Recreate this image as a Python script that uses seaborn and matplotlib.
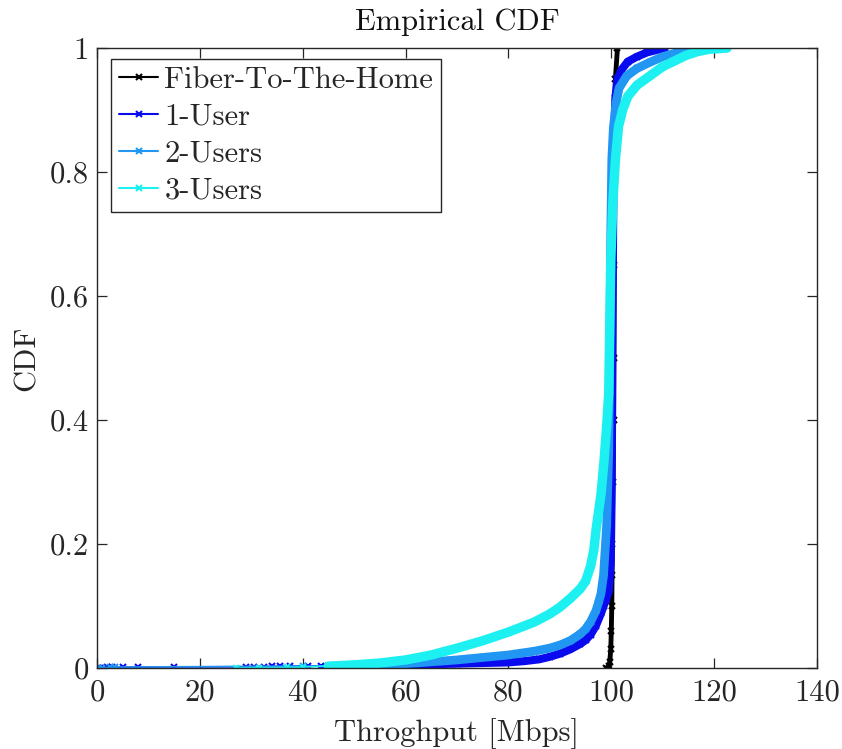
import numpy as np
import pandas as pd
import matplotlib
matplotlib.use("Agg")
import matplotlib.pyplot as plt
from matplotlib.lines import Line2D
from matplotlib.ticker import FuncFormatter
import seaborn as sns

# ---- data: empirical CDF samples (throughput in Mbps, cumulative probability) ----
series_names = ["Fiber-To-The-Home", "1-User", "2-Users", "3-Users"]

ftth_x = [99.0, 99.5, 99.7, 99.9, 100.0, 100.1, 100.15, 100.2, 100.3, 100.45,
          100.5, 100.55, 100.6, 100.8, 101.2]
ftth_cdf = [0.0, 0.003, 0.01, 0.03, 0.06, 0.1, 0.15, 0.2, 0.3, 0.4,
            0.5, 0.65, 0.85, 0.95, 1.0]

user1_x = [0.1, 0.6, 1.2, 2.0, 3.0, 5.0, 8.0, 15.0, 29.0, 30.5, 32.5, 34.0, 35.5,
           37.5, 41.0, 43.5, 45.0, 46.5, 48.0, 50.0, 55.0, 60.0, 65.0, 70.0, 75.0,
           80.0, 83.0, 86.0, 88.0, 90.0, 92.0, 94.0, 95.0, 96.0, 97.0, 98.0, 98.5,
           99.0, 99.5, 99.9, 100.1, 100.2, 100.35, 100.5, 100.8, 101.2, 102.0,
           103.2, 105.0, 107.0, 110.4]
user1_cdf = [0.0, 0.0004, 0.0008, 0.001, 0.0012, 0.0014, 0.0016, 0.0018, 0.002,
             0.0022, 0.0024, 0.0026, 0.0028, 0.003, 0.0032, 0.0034, 0.0036, 0.0038,
             0.004, 0.0042, 0.0045, 0.005, 0.006, 0.007, 0.008, 0.009, 0.011, 0.014,
             0.018, 0.023, 0.03, 0.039, 0.045, 0.054, 0.068, 0.088, 0.1, 0.11,
             0.125, 0.17, 0.3, 0.5, 0.7, 0.84, 0.92, 0.95, 0.965, 0.978, 0.986,
             0.993, 1.0]

user2_x = [0.2, 1.0, 2.5, 3.5, 40.0, 50.0, 55.0, 60.0, 65.0, 70.0, 75.0, 80.0, 85.0,
           88.0, 90.0, 92.0, 94.0, 95.0, 96.0, 97.0, 97.5, 98.0, 98.5, 99.1, 99.5,
           99.7, 99.9, 100.1, 100.4, 100.9, 101.5, 103.0, 105.0, 107.5, 110.0,
           113.0, 116.0]
user2_cdf = [0.0, 0.0005, 0.001, 0.0015, 0.003, 0.004, 0.005, 0.007, 0.01, 0.013,
             0.017, 0.021, 0.027, 0.032, 0.037, 0.044, 0.055, 0.063, 0.075, 0.092,
             0.105, 0.12, 0.15, 0.23, 0.35, 0.5, 0.7, 0.82, 0.87, 0.91, 0.935,
             0.955, 0.967, 0.977, 0.986, 0.993, 1.0]

user3_x = [27.0, 31.5, 37.0, 40.0, 45.0, 50.0, 55.0, 60.0, 65.0, 70.0, 75.0, 80.0,
           85.0, 88.0, 90.0, 92.0, 94.0, 95.0, 96.0, 96.6, 97.1, 98.0, 98.6, 99.1,
           99.5, 99.7, 99.9, 100.3, 100.8, 101.4, 102.2, 103.2, 105.0, 107.5,
           110.0, 112.0, 114.5, 116.7, 119.0, 122.5]
user3_cdf = [0.0, 0.0005, 0.001, 0.0015, 0.003, 0.005, 0.008, 0.013, 0.021, 0.032,
             0.044, 0.058, 0.074, 0.087, 0.098, 0.112, 0.128, 0.14, 0.165, 0.19,
             0.227, 0.28, 0.335, 0.39, 0.443, 0.55, 0.658, 0.75, 0.82, 0.873, 0.9,
             0.922, 0.94, 0.955, 0.97, 0.978, 0.988, 0.994, 0.998, 1.0]

x_ticks = [0, 20, 40, 60, 80, 100, 120, 140]
y_ticks = [0, 0.2, 0.4, 0.6, 0.8, 1.0]

# ---- styling ----
colors = {
    "Fiber-To-The-Home": "#000000",
    "1-User": "#0A0AEE",
    "2-Users": "#2196F3",
    "3-Users": "#1CF0F0",
}
band_width = {"Fiber-To-The-Home": 3.5, "1-User": 5.8, "2-Users": 6.3, "3-Users": 6.8}
band_from = {"Fiber-To-The-Home": 0.0, "1-User": 52.0, "2-Users": 52.0, "3-Users": 45.0}

frames = []
for name, xs, ys in [("Fiber-To-The-Home", ftth_x, ftth_cdf),
                     ("1-User", user1_x, user1_cdf),
                     ("2-Users", user2_x, user2_cdf),
                     ("3-Users", user3_x, user3_cdf)]:
    frames.append(pd.DataFrame({"throughput": xs, "cdf": ys, "series": name}))
df = pd.concat(frames, ignore_index=True)

sns.set_theme(style="white")
plt.rcParams["font.family"] = ["cmr10", "DejaVu Serif"]
plt.rcParams["axes.formatter.use_mathtext"] = True
plt.rcParams["mathtext.fontset"] = "cm"

fig = plt.figure(figsize=(8.42, 7.49), dpi=100)
ax = fig.add_axes([97 / 842, 1 - 668 / 749, 720 / 842, 620 / 749])

for name in series_names:
    sub = df[df["series"] == name]
    dense = sub[sub["throughput"] >= band_from[name]]
    # wide band where the samples are dense
    sns.lineplot(data=dense, x="throughput", y="cdf", color=colors[name],
                 lw=band_width[name], sort=False, estimator=None, legend=False,
                 ax=ax, solid_capstyle="round", solid_joinstyle="round")
    # the trace itself with sample markers
    sns.lineplot(data=sub, x="throughput", y="cdf", color=colors[name],
                 lw=1.2, marker="x", markersize=5, markeredgewidth=1.5,
                 markeredgecolor=colors[name], sort=False, estimator=None,
                 legend=False, ax=ax)

ax.set_xlim(0, 140)
ax.set_ylim(0, 1)
ax.set_xticks(x_ticks)
ax.set_yticks(y_ticks)
ax.yaxis.set_major_formatter(FuncFormatter(lambda v, p: f"{v:g}"))
ax.xaxis.set_major_formatter(FuncFormatter(lambda v, p: f"{v:g}"))

fs = 22
ax.tick_params(axis="both", which="major", direction="in", length=7, width=0.9,
               colors="#262626", labelsize=fs, top=True, right=True,
               bottom=True, left=True)
ax.tick_params(axis="x", pad=8)
ax.tick_params(axis="y", pad=6)
for s in ax.spines.values():
    s.set_color("#262626")
    s.set_linewidth(1.0)
    s.set_visible(True)

ax.set_title("Empirical CDF", fontsize=fs, color="#111111", pad=13)
ax.set_xlabel("Throghput [Mbps]", fontsize=fs, color="#262626", labelpad=8)
ax.set_ylabel("CDF", fontsize=fs, color="#262626", labelpad=6)
ax.grid(False)

handles = [Line2D([0], [0], color=colors[n], lw=1.5, marker="x", markersize=4,
                  markeredgewidth=1.5) for n in series_names]
leg = ax.legend(handles, series_names, loc="upper left",
                bbox_to_anchor=(14 / 720, 1 - 11 / 620), borderaxespad=0,
                fontsize=fs, frameon=True, fancybox=False, framealpha=1,
                edgecolor="#262626", handlelength=1.3, handletextpad=0.2,
                labelspacing=0.31, borderpad=0.25)
leg.get_frame().set_linewidth(1.0)

fig.savefig("out.png", dpi=100, facecolor="white")
